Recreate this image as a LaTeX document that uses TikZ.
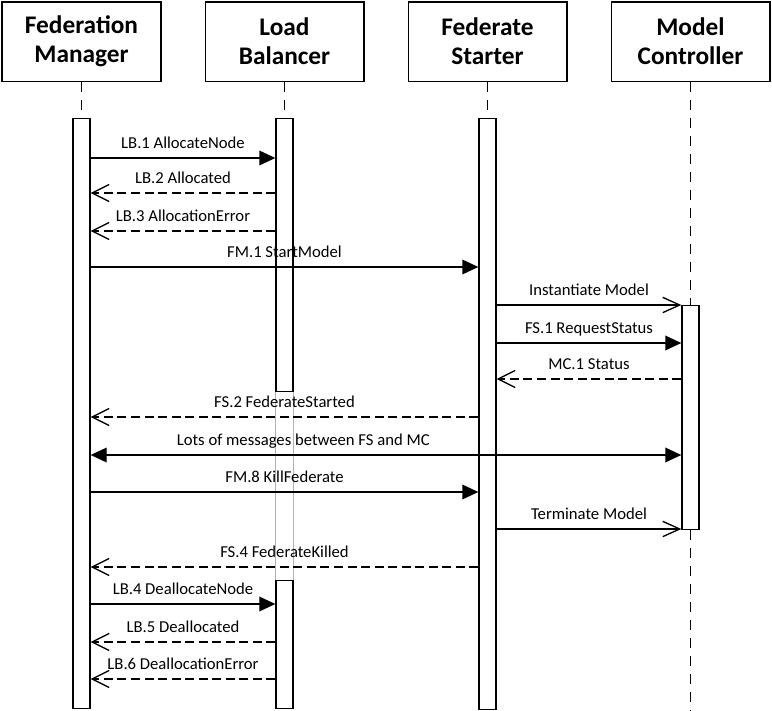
\documentclass[tikz,border=0pt]{standalone}
\usepackage{fontspec}
\setmainfont{Carlito}
\usetikzlibrary{arrows.meta, positioning}
\tikzset{>=Triangle,
    head/.style={draw, minimum width=119pt, minimum height=59.5pt, align=center, font=\fontsize{19}{21.75}\selectfont\bfseries},
    bar/.style={draw, fill=white, minimum width=12.75pt, inner sep=0pt, anchor=north},
    life/.style={dash pattern=on 7.5pt off 6pt},
    call/.style={-{Triangle[length=12pt,width=11pt]}},
    both/.style={{Triangle[length=12pt,width=11pt]}-{Triangle[length=12pt,width=11pt]}},
    async/.style={-{Straight Barb[length=12.75pt,width=11.5pt]}},
    reply/.style={dash pattern=on 6.75pt off 3.4pt, -{Straight Barb[length=12.75pt,width=12.75pt]}},
    lbl/.style={pos=0.5, anchor=base, yshift=7pt, font=\fontsize{12.5}{14}\selectfont}}

\begin{document}
\begin{tikzpicture}[x=0.75pt, y=-0.75pt, line width=1pt]
    \useasboundingbox (0,0) rectangle (772,711);
    \node[head] (fm) at (81.5,41.5) {Federation\\Manager};
    \node[head, right=32.25pt of fm] (lb) {Load\\Balancer};
    \node[head, right=32.25pt of lb] (fs) {Federate\\Starter};
    \node[head, right=32.25pt of fs] (mc) {Model\\Controller};
    \node[bar, minimum height=442.5pt] (fmbar) at (fm.south |- 0,118) {};
    \node[bar, minimum height=204.75pt] (lbbar) at (lb.south |- 0,118) {};
    \node[bar, minimum height=96pt] (lbbar2) at (lb.south |- 0,580) {};
    \node[bar, minimum height=443.25pt] (fsbar) at (fs.south |- 0,118) {};
    \node[bar, minimum height=168pt] (mcbar) at (mc.south |- 0,305) {};
    \draw[life] (fm.south) -- (fmbar.north);
    \draw[life] (lb.south) -- (lbbar.north);
    \draw[life] (fs.south) -- (fsbar.north);
    \draw[life] (mc.south) -- (mcbar.north);
    \draw[life] (mcbar.south) -- (mc.south |- 0,711);
    \draw[gray!60] (lbbar.south west) -- (lbbar2.north west);
    \draw[gray!60] (lbbar.south east) -- (lbbar2.north east);
    \draw[call] (fmbar.east |- 0,158) -- (lbbar.west |- 0,158) node[lbl] {LB.1 AllocateNode};
    \draw[reply] (lbbar.west |- 0,193) -- (fmbar.east |- 0,193) node[lbl] {LB.2 Allocated};
    \draw[reply] (lbbar.west |- 0,231) -- (fmbar.east |- 0,231) node[lbl] {LB.3 AllocationError};
    \draw[call] (fmbar.east |- 0,267) -- (fsbar.west |- 0,267) node[lbl] {FM.1 StartModel};
    \draw[async] (fsbar.east |- 0,305) -- (mcbar.west |- 0,305) node[lbl] {Instantiate Model};
    \draw[call] (fsbar.east |- 0,343) -- (mcbar.west |- 0,343) node[lbl] {FS.1 RequestStatus};
    \draw[reply] (mcbar.west |- 0,379) -- (fsbar.east |- 0,379) node[lbl] {MC.1 Status};
    \draw[reply] (fsbar.west |- 0,417) -- (fmbar.east |- 0,417) node[lbl] {FS.2 FederateStarted};
    \draw[both] (fmbar.east |- 0,455) -- (mcbar.west |- 0,455) node[lbl, pos=0.36] {Lots of messages between FS and MC};
    \draw[call] (fmbar.east |- 0,492) -- (fsbar.west |- 0,492) node[lbl] {FM.8 KillFederate};
    \draw[async] (fsbar.east |- 0,529) -- (mcbar.west |- 0,529) node[lbl] {Terminate Model};
    \draw[reply] (fsbar.west |- 0,567) -- (fmbar.east |- 0,567) node[lbl] {FS.4 FederateKilled};
    \draw[call] (fmbar.east |- 0,604) -- (lbbar2.west |- 0,604) node[lbl] {LB.4 DeallocateNode};
    \draw[reply] (lbbar2.west |- 0,642) -- (fmbar.east |- 0,642) node[lbl] {LB.5 Deallocated};
    \draw[reply] (lbbar2.west |- 0,679) -- (fmbar.east |- 0,679) node[lbl] {LB.6 DeallocationError};
\end{tikzpicture}
\end{document}
